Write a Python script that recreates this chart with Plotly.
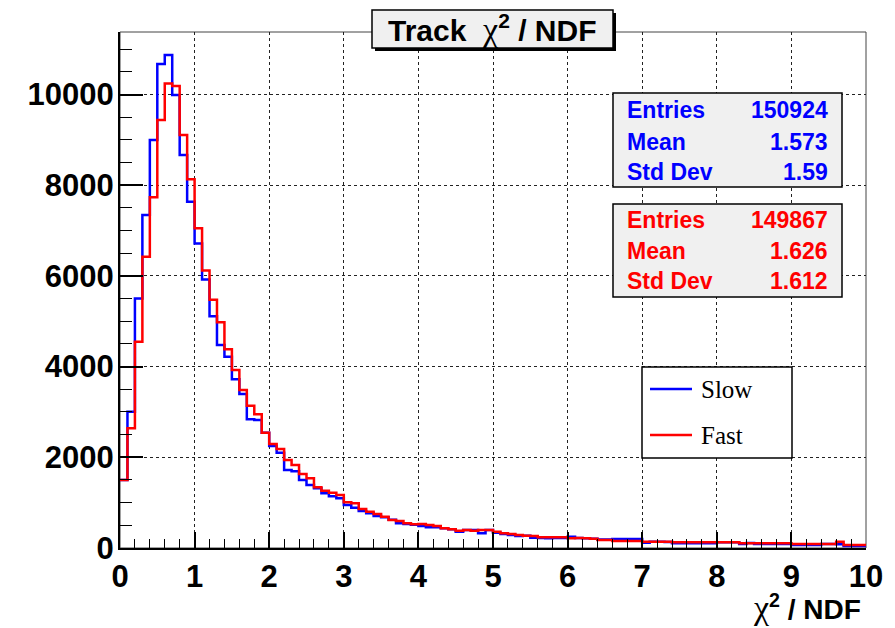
import numpy as np
import plotly.graph_objects as go

# Histogram binning: 100 bins of chi2/NDF over [0, 10]
bin_edges = [round(0.1 * i, 1) for i in range(101)]

slow_counts = [
    1500, 3006, 5505, 7343, 8997, 10673, 10871, 9989, 8666, 7637,
    6718, 5920, 5110, 4476, 4219, 3719, 3396, 2837, 2822, 2543,
    2249, 2101, 1720, 1690, 1500, 1389, 1316, 1206, 1140, 1095,
    948, 890, 816, 765, 706, 677, 624, 544, 529, 515,
    485, 456, 456, 434, 412, 360, 397, 397, 323, 397,
    338, 309, 287, 265, 272, 228, 220, 213, 220, 220,
    250, 220, 213, 206, 190, 185, 198, 198, 198, 198,
    118, 140, 140, 130, 103, 103, 103, 103, 103, 103,
    125, 125, 125, 88, 110, 88, 88, 88, 88, 88,
    66, 66, 66, 66, 88, 88, 80, 44, 44, 44,
]

fast_counts = [
    1500, 2640, 4549, 6424, 7733, 9438, 10246, 10187, 9107, 8130,
    7050, 6120, 5475, 4980, 4385, 3925, 3484, 3138, 2948, 2543,
    2293, 2183, 1940, 1830, 1632, 1537, 1338, 1264, 1220, 1169,
    1007, 985, 860, 801, 750, 691, 617, 595, 544, 522,
    529, 507, 485, 434, 412, 382, 397, 382, 397, 397,
    360, 323, 309, 287, 272, 265, 235, 235, 235, 235,
    213, 220, 213, 206, 176, 176, 154, 154, 154, 154,
    140, 140, 140, 140, 125, 125, 125, 125, 125, 125,
    125, 125, 125, 103, 103, 103, 103, 103, 103, 103,
    88, 88, 88, 88, 88, 88, 140, 66, 66, 66,
]

series_names = ["Slow", "Fast"]
series_colors = ["#0000ff", "#ff0000"]

stat_labels = ["Entries", "Mean", "Std Dev"]
slow_stats = ["150924", "1.573", "1.59"]
fast_stats = ["149867", "1.626", "1.612"]

y_max = 11380

W, H = 895, 628
L, R, T, B = 120, 866, 32, 548  # plot frame in pixels


def px(x):
    return (x - L) / (R - L)


def py(y):
    return (B - y) / (B - T)


CHI = '<span style="font-family:Liberation Serif;font-weight:normal;font-size:34px">χ</span>'

fig = go.Figure()
for name, counts, color in zip(series_names, [slow_counts, fast_counts], series_colors):
    fig.add_trace(go.Scatter(
        x=bin_edges, y=counts + [counts[-1]],
        mode="lines", line=dict(color=color, width=2.5, shape="hv"),
        name=name, showlegend=False, hoverinfo="skip",
    ))

shapes = []
annotations = []

# Frame top/right
shapes.append(dict(type="rect", xref="paper", yref="paper", x0=0, x1=1, y0=0, y1=1,
                   line=dict(color="#444", width=1), layer="below"))

# Title box with drop shadow
shapes.append(dict(type="rect", xref="paper", yref="paper",
                   x0=px(375), x1=px(616), y0=py(51), y1=py(13),
                   fillcolor="#000", line=dict(width=0), layer="above"))
shapes.append(dict(type="rect", xref="paper", yref="paper",
                   x0=px(372), x1=px(613), y0=py(48), y1=py(10),
                   fillcolor="#f0f0f0", line=dict(color="#000", width=1.5), layer="above"))
annotations.append(dict(xref="paper", yref="paper", x=px(492), y=py(29),
                        text="Track  " + CHI + "<sup>2</sup> / NDF", showarrow=False,
                        xanchor="center", yanchor="middle",
                        font=dict(family="Liberation Sans", size=30, color="#000", weight="bold")))

# Statistics boxes
stat_boxes = [
    (slow_stats, series_colors[0], 93, 187, [110, 141.5, 171.5]),
    (fast_stats, series_colors[1], 204, 297, [219.5, 251, 281]),
]
for values, color, ytop, ybot, rows in stat_boxes:
    shapes.append(dict(type="rect", xref="paper", yref="paper",
                       x0=px(613), x1=px(842), y0=py(ybot), y1=py(ytop),
                       fillcolor="#f0f0f0", line=dict(color="#000", width=1.5), layer="above"))
    for lab, val, yrow in zip(stat_labels, values, rows):
        f = dict(family="Liberation Sans", size=23, color=color, weight="bold")
        annotations.append(dict(xref="paper", yref="paper", x=px(625), y=py(yrow),
                                text=lab, showarrow=False, xanchor="left", yanchor="middle", font=f))
        annotations.append(dict(xref="paper", yref="paper", x=px(830), y=py(yrow),
                                text=val, showarrow=False, xanchor="right", yanchor="middle", font=f))

# Legend box
shapes.append(dict(type="rect", xref="paper", yref="paper",
                   x0=px(642), x1=px(792), y0=py(458), y1=py(367),
                   fillcolor="#fff", line=dict(color="#000", width=1.5), layer="above"))
for name, color, yrow in zip(series_names, series_colors, [389, 435]):
    shapes.append(dict(type="line", xref="paper", yref="paper",
                       x0=px(650), x1=px(692), y0=py(yrow), y1=py(yrow),
                       line=dict(color=color, width=2.5), layer="above"))
    annotations.append(dict(xref="paper", yref="paper", x=px(699), y=py(yrow),
                            text=name, showarrow=False, xanchor="left", yanchor="middle",
                            font=dict(family="Liberation Serif", size=25, color="#000")))

# X axis title
annotations.append(dict(xref="paper", yref="paper", x=px(863), y=py(607),
                        text=CHI + "<sup>2</sup> / NDF", showarrow=False,
                        xanchor="right", yanchor="middle",
                        font=dict(family="Liberation Sans", size=28, color="#000", weight="bold")))

tickfont = dict(family="Liberation Sans", size=31, color="#000", weight="bold")

fig.update_layout(
    width=W, height=H, autosize=False,
    margin=dict(l=L, r=W - R, t=T, b=H - B, pad=0),
    paper_bgcolor="#fff", plot_bgcolor="#fff",
    shapes=shapes, annotations=annotations,
    xaxis=dict(range=[0, 10], dtick=1, tick0=0, showgrid=True,
               gridcolor="#222", griddash="dot", gridwidth=1,
               ticks="inside", ticklen=16, tickwidth=1.5, tickcolor="#000",
               minor=dict(dtick=0.2, ticks="inside", ticklen=9, tickwidth=1.2,
                          tickcolor="#000", showgrid=False),
               showline=True, linecolor="#000", linewidth=2,
               tickfont=tickfont, ticklabelstandoff=0, zeroline=False),
    yaxis=dict(range=[0, y_max], dtick=2000, tick0=0, showgrid=True,
               gridcolor="#222", griddash="dot", gridwidth=1,
               ticks="inside", ticklen=23, tickwidth=1.5, tickcolor="#000",
               minor=dict(dtick=500, ticks="inside", ticklen=12, tickwidth=1.2,
                          tickcolor="#000", showgrid=False),
               showline=True, linecolor="#000", linewidth=2,
               tickformat="d", separatethousands=False,
               tickfont=tickfont, ticklabelstandoff=-2, zeroline=False),
)

fig.write_html("out.html")
